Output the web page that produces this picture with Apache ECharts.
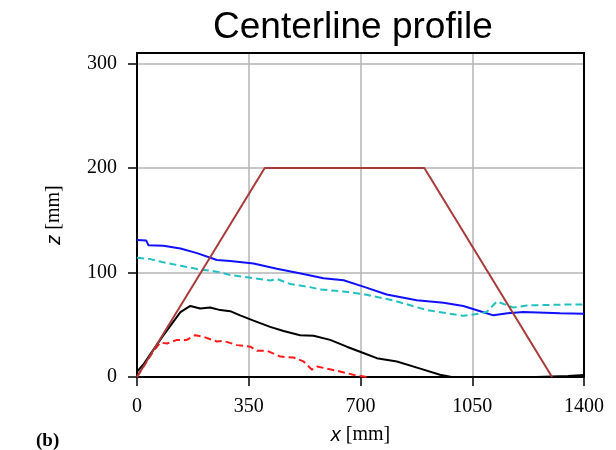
<!DOCTYPE html>
<html>
<head>
<meta charset="utf-8">
<script src="https://cdn.jsdelivr.net/npm/echarts@6/dist/echarts.min.js"></script>
<style>
  html, body { margin: 0; padding: 0; background: #fff; }
  #chart { width: 616px; height: 450px; }
</style>
</head>
<body>
<div id="chart"></div>
<script>
// x positions [mm] and heights z [mm]
const trapezoidX = [0, 400, 900, 1300];
const trapezoidZ = [0, 200, 200, 0];

const blueX = [0, 29, 36, 83, 136, 188, 250, 292, 365, 438, 521, 584, 647, 709, 782, 876, 960, 1022, 1095, 1116, 1160, 1210, 1325, 1400];
const blueZ = [131, 130.5, 126, 125.5, 123, 118.5, 112, 111, 108.5, 103.5, 98.5, 94.5, 92.5, 86.5, 79, 73.5, 71, 68, 61, 59, 61, 62.3, 61, 60.5];

const cyanX = [0, 42, 83, 136, 188, 250, 292, 365, 417, 438, 480, 542, 574, 647, 709, 803, 908, 1022, 1074, 1095, 1127, 1179, 1221, 1325, 1400];
const cyanZ = [114, 112.8, 109.7, 106.5, 103.3, 100.8, 97.6, 94.5, 92.3, 93.8, 89, 86, 83.7, 81.8, 79.3, 73.3, 64, 58.5, 60.7, 62.2, 72.3, 66.4, 68.5, 69.2, 69.5];

const blackX = [0, 20, 42, 83, 136, 167, 198, 229, 261, 292, 323, 365, 417, 459, 511, 553, 605, 657, 709, 751, 814, 887, 949, 985, 1100, 1250, 1350, 1400];
const blackZ = [5, 12, 22, 40, 62, 68, 65.5, 66.5, 64, 63, 59, 54, 48, 44, 40, 39.5, 35.5, 29, 23, 18, 14.8, 8, 2.2, 0, 0, 0, 1, 2];

const redX = [0, 31, 52, 73, 94, 125, 156, 182, 208, 235, 250, 271, 313, 355, 376, 407, 449, 490, 521, 548, 564, 626, 680, 720];
const redZ = [0, 15, 25, 33, 32, 35.5, 35.5, 40, 38.5, 35.5, 34, 34.5, 30.5, 29, 25, 25, 19.5, 18.7, 15, 7, 10, 6, 2, 0];

const xTicks = [0, 350, 700, 1050, 1400];
const zTicks = [0, 100, 200, 300];

function pairs(xs, zs) {
  return xs.map((x, i) => [x, zs[i]]);
}

function lineSeries(name, xs, zs, color, dashed) {
  return {
    name: name,
    type: 'line',
    data: pairs(xs, zs),
    showSymbol: false,
    symbol: 'none',
    lineStyle: { color: color, width: 2, type: dashed ? [7, 4] : 'solid' },
    silent: true
  };
}

const nameStyle = {
  fontFamily: 'Liberation Serif', fontSize: 20, color: '#000',
  rich: { i: { fontFamily: 'Liberation Sans', fontStyle: 'italic', fontSize: 20, color: '#000' } }
};

const myChart = echarts.init(document.getElementById('chart'));
myChart.setOption({
  animation: false,
  backgroundColor: '#fff',
  title: {
    text: 'Centerline profile',
    left: 208,
    top: 4,
    textStyle: { fontFamily: 'Liberation Sans', fontSize: 37, fontWeight: 'normal', color: '#000' }
  },
  grid: { left: 137, right: 32, top: 53, bottom: 71 },
  graphic: [{
    type: 'text',
    left: 36,
    top: 432,
    style: { text: '(b)', font: 'bold 19px "Liberation Serif"', fill: '#000' }
  }],
  xAxis: [{
    type: 'value',
    min: 0, max: 1400, interval: 350,
    name: '{i|x} [mm]',
    nameLocation: 'middle',
    nameGap: 48,
    nameTextStyle: nameStyle,
    axisLine: { show: true, lineStyle: { color: '#000', width: 2 } },
    axisTick: { show: true, length: 9, lineStyle: { color: '#000', width: 1.5 }, customValues: xTicks },
    axisLabel: { customValues: xTicks, margin: 20, fontFamily: 'Liberation Serif', fontSize: 20, color: '#000', formatter: v => String(v) },
    splitLine: { show: true, lineStyle: { color: '#b5b5b5', width: 1.5 } }
  }, {
    // top frame edge
    type: 'value', position: 'top', min: 0, max: 1400,
    axisLine: { show: true, onZero: false, lineStyle: { color: '#000', width: 2 } },
    axisTick: { show: false }, axisLabel: { show: false }, splitLine: { show: false }
  }],
  yAxis: [{
    type: 'value',
    min: 0, max: 310, interval: 100,
    name: '{i|z} [mm]',
    nameLocation: 'middle',
    nameGap: 73,
    nameRotate: 90,
    nameTextStyle: nameStyle,
    axisLine: { show: true, lineStyle: { color: '#000', width: 2 } },
    axisTick: { show: true, length: 9, lineStyle: { color: '#000', width: 1.5 }, customValues: zTicks },
    axisLabel: { customValues: zTicks, margin: 20, fontFamily: 'Liberation Serif', fontSize: 20, color: '#000' },
    splitLine: { show: true, lineStyle: { color: '#b5b5b5', width: 1.5 } }
  }, {
    // right frame edge
    type: 'value', position: 'right', min: 0, max: 310,
    axisLine: { show: true, onZero: false, lineStyle: { color: '#000', width: 2 } },
    axisTick: { show: false }, axisLabel: { show: false }, splitLine: { show: false }
  }],
  series: [
    lineSeries('blue', blueX, blueZ, '#1010ff', false),
    lineSeries('cyan', cyanX, cyanZ, '#22c0c0', true),
    lineSeries('red', redX, redZ, '#ff1a1a', true),
    lineSeries('black', blackX, blackZ, '#000000', false),
    lineSeries('trapezoid', trapezoidX, trapezoidZ, '#a83a3a', false)
  ]
});
</script>
</body>
</html>
